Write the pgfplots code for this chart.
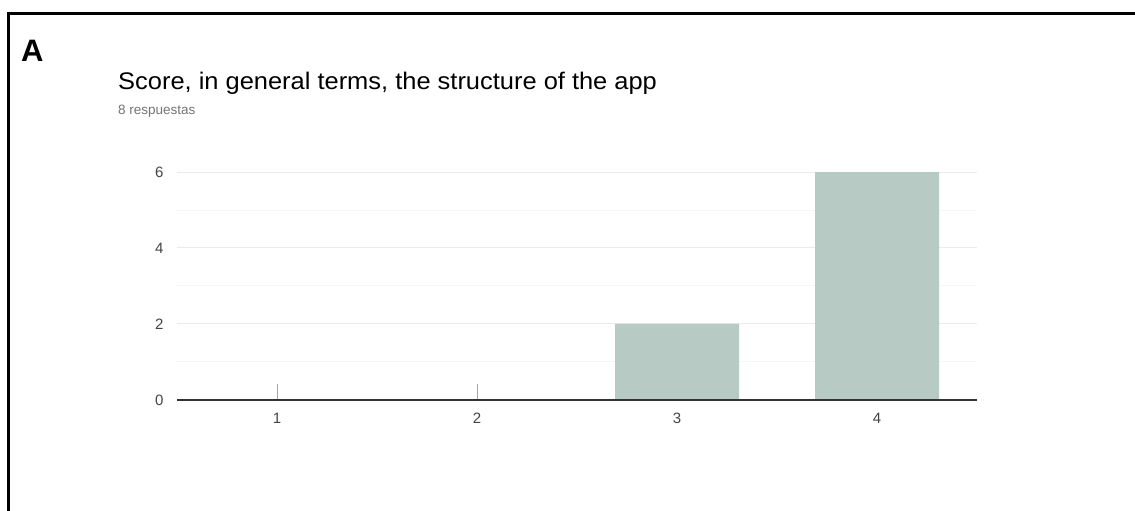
\documentclass[border=0pt]{standalone}
\usepackage{fontspec}
\setmainfont{Liberation Sans}
\newfontfamily\titlefont[FakeStretch=1.06]{Liberation Sans}
\usepackage{pgfplots}
\pgfplotsset{compat=1.18}
\definecolor{barc}{HTML}{B7CAC3}
\definecolor{gridmaj}{HTML}{EBEBEB}
\definecolor{gridmin}{HTML}{F5F5F5}
\definecolor{ticktext}{HTML}{444444}
\definecolor{subgrey}{HTML}{757575}
\definecolor{axisc}{HTML}{333333}
\begin{document}
\begin{tikzpicture}[x=1pt,y=1pt]
\useasboundingbox (0,0) rectangle (1135,511);
\fill[white] (0,0) rectangle (1135,511);
\draw[line width=3pt] (8.5,0) -- (8.5,497) -- (1136,497);
\node[anchor=base west, inner sep=0, font=\bfseries\fontsize{31}{36}\selectfont] at (21,449) {A};
\node[anchor=base west, inner sep=0, font=\titlefont\fontsize{24}{28}\selectfont] at (118,421) {Score, in general terms, the structure of the app};
\node[anchor=base west, inner sep=0, text=subgrey, font=\fontsize{13.5}{16}\selectfont] at (118,396) {8 respuestas};
\begin{axis}[
  at={(177pt,111pt)}, anchor=south west, scale only axis,
  width=800pt, height=228pt,
  xmin=0.5, xmax=4.5, ymin=0, ymax=6,
  ybar, bar width=124pt,
  axis line style={draw=none},
  xtick={1,2,3,4}, ytick={0,2,4,6},
  minor y tick num=1,
  ymajorgrids, yminorgrids,
  major grid style={gridmaj, line width=1pt},
  minor grid style={gridmin, line width=1pt},
  major tick length=0pt, minor tick length=0pt,
  xtick pos=bottom, ytick pos=left,
  tick label style={font=\fontsize{15}{17}\selectfont, text=ticktext},
  /pgf/number format/assume math mode=true,
  yticklabel style={xshift=-10pt},
  xticklabel style={anchor=center, yshift=-18pt, text height=11pt, text depth=0pt},
  extra x ticks={1,2}, extra x tick labels={},
  extra x tick style={grid=none, major tick length=16pt, tick align=inside,
    major tick style={color=black!35, line width=1pt}},
  clip=false,
]
\addplot[fill=barc, draw=none] coordinates {(1,0) (2,0) (3,2) (4,6)};
\draw[axisc, line width=1.5pt] (axis cs:0.5,0) -- (axis cs:4.5,0);
\end{axis}
\end{tikzpicture}
\end{document}
